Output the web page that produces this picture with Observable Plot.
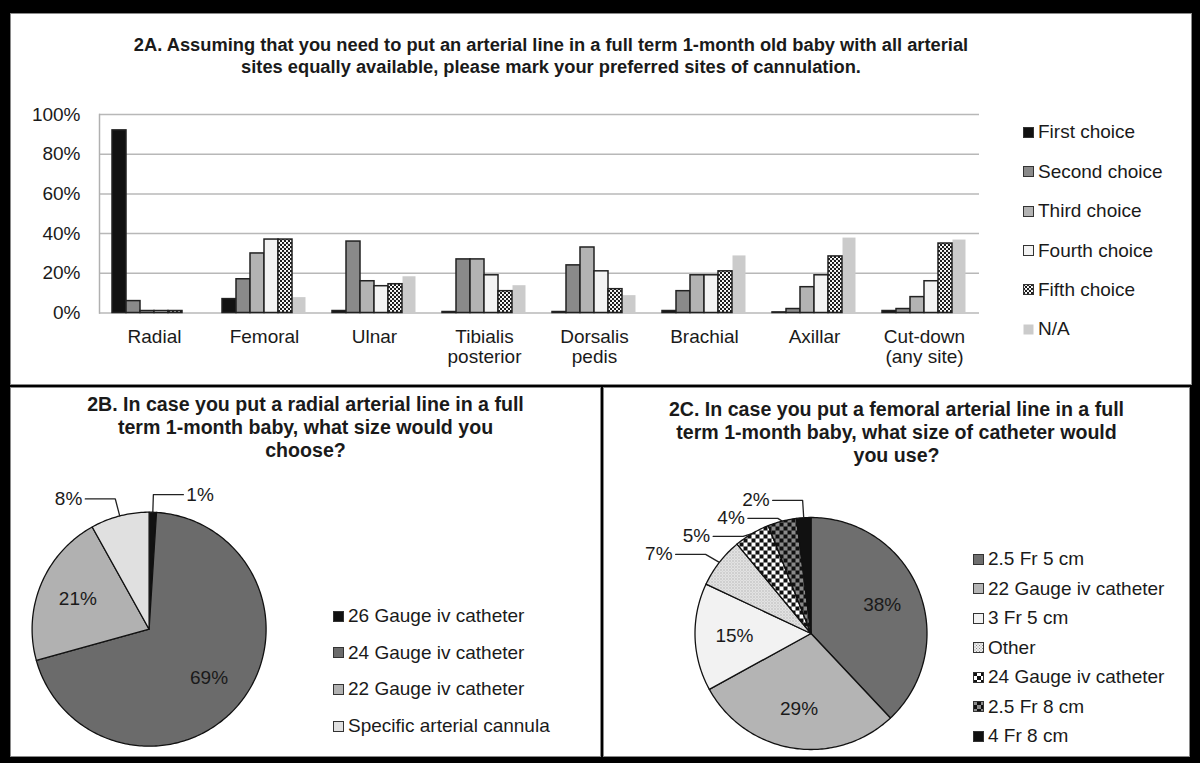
<!DOCTYPE html>
<html><head><meta charset="utf-8">
<script src="https://cdn.jsdelivr.net/npm/d3@7"></script>
<script src="https://cdn.jsdelivr.net/npm/@observablehq/plot@0.6"></script>
<style>
body{margin:0;background:#000;}
#root{position:relative;width:1200px;height:763px;background:#000;overflow:hidden;font-family:"Liberation Sans",Arial,sans-serif;color:#1a1a1a;}
.panel{position:absolute;background:#fff;box-sizing:border-box;border:1px solid #8a8a8a;}
.title{position:absolute;text-align:center;font-weight:bold;font-size:19.6px;line-height:23px;white-space:nowrap;}
.lg{position:absolute;height:22px;line-height:22px;font-size:19px;white-space:nowrap;display:flex;align-items:center;}
.lg svg{margin-right:4px;}
</style></head><body>
<svg width="0" height="0" style="position:absolute">
<defs>
<pattern id="pDots" width="4" height="4" patternUnits="userSpaceOnUse">
  <rect width="4" height="4" fill="#fff"/>
  <circle cx="1" cy="1" r="1.15" fill="#111"/>
  <circle cx="3" cy="3" r="1.15" fill="#111"/>
</pattern>
<pattern id="pOther" width="3" height="3" patternUnits="userSpaceOnUse">
  <rect width="3" height="3" fill="#eeeeee"/>
  <rect x="0" y="0" width="1" height="1" fill="#8a8a8a"/>
  <rect x="1.5" y="1.5" width="1" height="1" fill="#8a8a8a"/>
</pattern>
<pattern id="pCheck" width="8" height="8" patternUnits="userSpaceOnUse">
  <rect width="8" height="8" fill="#fff"/>
  <rect width="4" height="4" fill="#111"/>
  <rect x="4" y="4" width="4" height="4" fill="#111"/>
</pattern>
<pattern id="pCheckGray" width="8" height="8" patternUnits="userSpaceOnUse">
  <rect width="8" height="8" fill="#111"/>
  <rect width="4" height="4" fill="#8a8a8a"/>
  <rect x="4" y="4" width="4" height="4" fill="#8a8a8a"/>
</pattern>
</defs></svg>
<div id="root">
  <div class="panel" style="left:10px;top:13px;width:1182px;height:372px"></div>
  <div class="panel" style="left:10px;top:387px;width:591px;height:370px"></div>
  <div class="panel" style="left:603px;top:387px;width:587px;height:370px"></div>
  <div class="title" style="left:10px;width:1082px;top:34px;line-height:22px;font-size:18.3px;">2A. Assuming that you need to put an arterial line in a full term 1-month old baby with all arterial<br>sites equally available, please mark your preferred sites of cannulation.</div>
  <div class="title" style="left:10px;width:591px;top:393px;">2B. In case you put a radial arterial line in a full<br>term 1-month baby, what size would you<br>choose?</div>
  <div class="title" style="left:603px;width:587px;top:398px;">2C. In case you put a femoral arterial line in a full<br>term 1-month baby, what size of catheter would<br>you use?</div>
</div>
<script>
// ---------- Data ----------
const sites = ["Radial", "Femoral", "Ulnar", "Tibialis\nposterior", "Dorsalis\npedis", "Brachial", "Axillar", "Cut-down\n(any site)"];
const choices = ["First choice", "Second choice", "Third choice", "Fourth choice", "Fifth choice", "N/A"];
const firstChoice  = [92, 7, 1, 0.5, 0.5, 1, 0.3, 1];
const secondChoice = [6, 17, 36, 27, 24, 11, 2, 2];
const thirdChoice  = [1, 30, 16, 27, 33, 19, 13, 8];
const fourthChoice = [1, 37, 13.5, 19, 21, 19, 19, 16];
const fifthChoice  = [1, 37, 14.5, 11, 12, 21, 28.5, 35];
const naChoice     = [0, 8, 18.5, 14, 9, 29, 38, 37];
const yTicks = [0, 20, 40, 60, 80, 100];

const radialSizes = ["26 Gauge iv catheter", "24 Gauge iv catheter", "22 Gauge iv catheter", "Specific arterial cannula"];
const radialValues = [1, 69, 21, 8];

const femoralSizes = ["2.5 Fr 5 cm", "22 Gauge iv catheter", "3 Fr 5 cm", "Other", "24 Gauge iv catheter", "2.5 Fr 8 cm", "4 Fr 8 cm"];
const femoralValues = [38, 29, 15, 7, 5, 4, 2];

// ---------- Styles ----------
const FONT = '"Liberation Sans", Arial, sans-serif';
const barColors = ["#111111", "#8a8a8a", "#b3b3b3", "#f3f3f3", "url(#pDots)", "#cbcbcb"];
const radialColors = ["#111111", "#6b6b6b", "#b1b1b1", "#e0e0e0"];
const femoralColors = ["#6e6e6e", "#b4b4b4", "#f2f2f2", "url(#pOther)", "url(#pCheck)", "url(#pCheckGray)", "#111111"];
const root = document.getElementById("root");

function place(node, left, top) {
  node.style.position = "absolute";
  node.style.left = left + "px";
  node.style.top = top + "px";
  root.appendChild(node);
}

// ---------- Bar chart 2A ----------
const series = [firstChoice, secondChoice, thirdChoice, fourthChoice, fifthChoice, naChoice];
const barData = [];
sites.forEach((s, i) => choices.forEach((c, j) => barData.push({site: s, choice: c, value: series[j][i]})));

const bar = Plot.plot({
  width: 1000, height: 290,
  marginLeft: 87, marginRight: 30, marginTop: 24, marginBottom: 67.5,
  style: {fontFamily: FONT, fontSize: "19px", color: "#1a1a1a", background: "transparent", overflow: "visible"},
  fx: {domain: sites, padding: 0, axis: null, label: null},
  x: {domain: choices, axis: null, paddingInner: 0, paddingOuter: 0.85},
  y: {domain: [0, 100], axis: null},
  color: {domain: choices, range: barColors},
  marks: [
    Plot.gridY(yTicks, {stroke: "#b8b8b8", strokeOpacity: 1, strokeWidth: 1.5}),
    Plot.frame({anchor: "left", facetAnchor: "left", stroke: "#b0b0b0", strokeWidth: 1.5}),
    Plot.axisY(yTicks, {tickSize: 0, tickPadding: 19, tickFormat: d => d + "%", label: null, fontSize: 19}),
    Plot.barY(barData.filter(d => d.choice === "N/A"), {fx: "site", x: "choice", y: "value", fill: "choice", inset: 0.5}),
    Plot.barY(barData.filter(d => d.choice !== "N/A"), {fx: "site", x: "choice", y: "value", fill: "choice", stroke: "#222", strokeWidth: 1.5, inset: 0}),
    Plot.text(sites, {fx: d => d, text: d => d, frameAnchor: "bottom", lineAnchor: "top", dy: 15, lineHeight: 1.08, fill: "#1a1a1a"})
  ]
});
place(bar, 10, 90);

// ---------- Pie helper ----------
function pie(labels, values, colors, cx, cy, r, left, top, w, h) {
  const arcs = d3.pie().sort(null).value(d => d)(values);
  const slices = arcs.map((a, i) => ({label: labels[i], value: values[i], a0: a.startAngle, a1: a.endAngle, mid: (a.startAngle + a.endAngle) / 2}));
  const poly = [];
  for (const s of slices) {
    const n = Math.max(2, Math.ceil((s.a1 - s.a0) / (Math.PI / 180)));
    poly.push({label: s.label, x: 0, y: 0});
    for (let k = 0; k <= n; k++) {
      const a = s.a0 + (s.a1 - s.a0) * k / n;
      poly.push({label: s.label, x: Math.sin(a), y: -Math.cos(a)});
    }
  }
  const inside = slices.filter(s => s.value >= 10).map(s => ({text: s.value + "%", x: 0.66 * Math.sin(s.mid), y: -0.66 * Math.cos(s.mid)}));
  const rb = 1.15;
  const outs = slices.filter(s => s.value < 10).map(s => {
    const side = Math.sin(s.mid) >= 0 ? 1 : -1;
    return {s, side, ex: Math.sin(s.mid), ey: -Math.cos(s.mid), bx: rb * Math.sin(s.mid), by: -rb * Math.cos(s.mid)};
  });
  // vertical de-overlap (downwards), per side
  const gap = 18 / r, hlen = 30 / r, tpad = 3 / r;
  for (const side of [-1, 1]) {
    const grp = outs.filter(o => o.side === side).sort((a, b) => a.by - b.by);
    let last = -Infinity;
    for (const o of grp) { o.ly = Math.max(o.by, last + gap); last = o.ly; }
  }
  const leaders = [];
  outs.forEach(o => {
    leaders.push({label: o.s.label, x: o.ex, y: o.ey});
    leaders.push({label: o.s.label, x: o.bx, y: o.ly});
    leaders.push({label: o.s.label, x: o.bx + o.side * hlen, y: o.ly});
  });
  const outText = outs.map(o => ({text: o.s.value + "%", side: o.side, x: o.bx + o.side * (hlen + tpad), y: o.ly}));
  return Plot.plot({
    width: w, height: h, margin: 0,
    style: {fontFamily: FONT, fontSize: "19px", color: "#1a1a1a", background: "transparent", overflow: "visible"},
    x: {domain: [-1, 1], range: [cx - r - left, cx + r - left], axis: null},
    y: {domain: [-1, 1], range: [cy - r - top, cy + r - top], axis: null},
    color: {domain: labels, range: colors},
    marks: [
      Plot.line(poly, {x: "x", y: "y", z: "label", fill: "label", stroke: "#111", strokeWidth: 1.3, curve: "linear-closed"}),
      Plot.line(leaders, {x: "x", y: "y", z: "label", stroke: "#222", strokeWidth: 1.3}),
      Plot.text(inside, {x: "x", y: "y", text: "text", fill: "#1a1a1a"}),
      Plot.text(outText.filter(d => d.side > 0), {x: "x", y: "y", text: "text", textAnchor: "start", fill: "#1a1a1a"}),
      Plot.text(outText.filter(d => d.side < 0), {x: "x", y: "y", text: "text", textAnchor: "end", fill: "#1a1a1a"})
    ]
  });
}

place(pie(radialSizes, radialValues, radialColors, 148.6, 628.7, 117, 10, 470, 300, 287), 10, 470);
place(pie(femoralSizes, femoralValues, femoralColors, 810.5, 633, 116, 603, 470, 400, 287), 603, 470);

// ---------- Legends ----------
function legend(labels, colors, x, y0, step, noStroke) {
  labels.forEach((lab, i) => {
    const d = document.createElement("div");
    d.className = "lg";
    const stroke = noStroke && noStroke(lab) ? "none" : "#333";
    d.innerHTML = `<svg width="11" height="11"><rect x="0.5" y="0.5" width="10" height="10" fill="${colors[i]}" stroke="${stroke}" stroke-width="1"/></svg><span>${lab}</span>`;
    d.style.left = x + "px";
    d.style.top = (y0 + i * step - 11) + "px";
    root.appendChild(d);
  });
}
legend(choices, barColors, 1023, 132.3, 39.4, lab => lab === "N/A");
legend(radialSizes, radialColors, 333, 616, 36.7);
legend(femoralSizes, femoralColors, 973, 559.3, 29.45);
</script>
</body></html>
